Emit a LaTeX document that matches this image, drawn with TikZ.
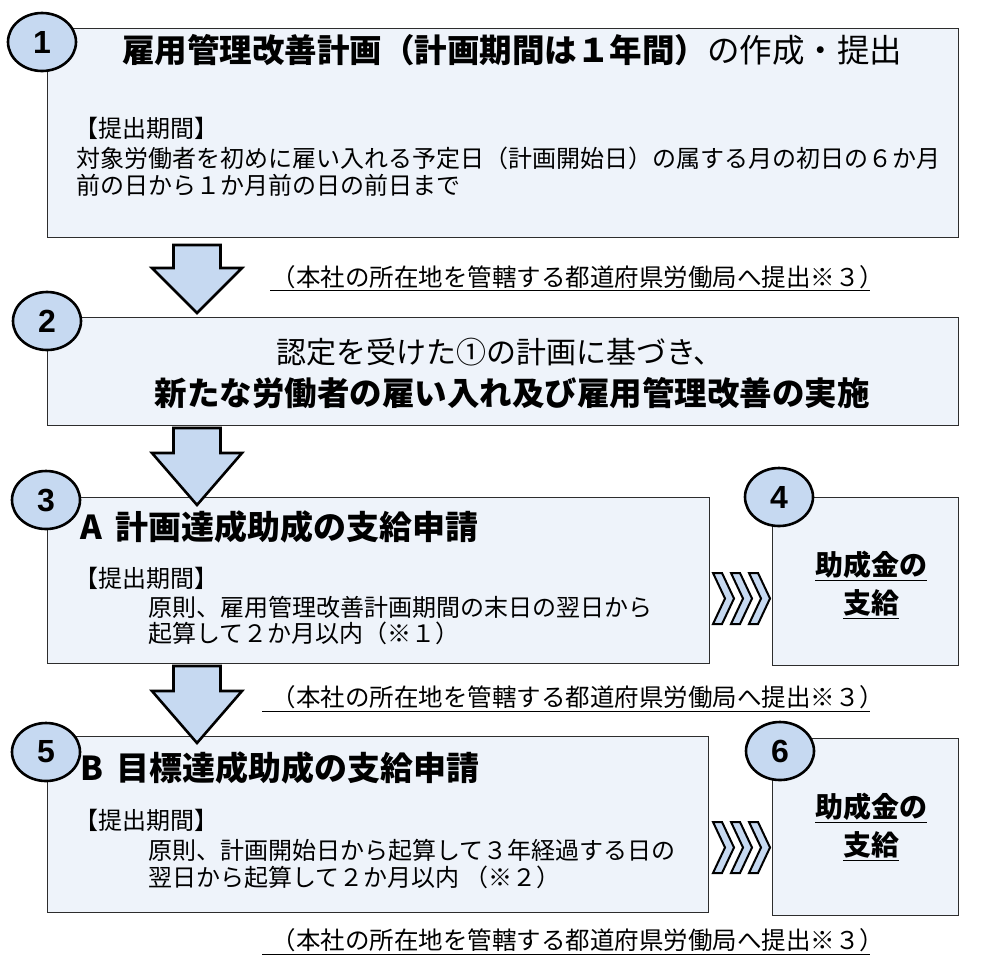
\documentclass[tikz,border=0pt]{standalone}
\usepackage{fontspec}
\setmainfont{Noto Sans CJK JP}
\newfontfamily\numfont{Liberation Sans}
\usetikzlibrary{shapes.geometric}
\definecolor{boxfill}{RGB}{238,243,250}
\definecolor{bluefill}{RGB}{198,217,241}
\definecolor{boxline}{RGB}{45,45,45}
\tikzset{
  box/.style={draw=boxline, line width=1pt, fill=boxfill, anchor=north west, inner sep=0pt},
  num/.style={ellipse, draw=black, line width=2.6pt, fill=bluefill, minimum width=68pt, minimum height=58pt, inner sep=0pt, font=\numfont\bfseries\fontsize{32}{32}\selectfont},
  txt/.style={inner sep=0pt, anchor=west},
  ctxt/.style={inner sep=0pt, anchor=center},
  fbig/.style={font=\fontsize{32.5}{35}\selectfont},
  fhead/.style={font=\fontsize{33}{35}\selectfont},
  fmid/.style={font=\fontsize{30}{33}\selectfont},
  fsmall/.style={font=\fontsize{24}{27}\selectfont},
  fnote/.style={font=\fontsize{24.5}{27}\selectfont},
  fpay/.style={font=\bfseries\fontsize{28}{30}\selectfont},
  barrow/.style={draw=black, line width=2.6pt, fill=bluefill, line join=miter},
  chev/.style={draw=black, line width=2pt, fill=bluefill, line join=miter},
  uline/.style={draw=black, line width=0.9pt},
}
\newcommand\blockarrow[4]{%
  \draw[barrow] (#1-23.5,#2) -- (#1+23.5,#2) -- (#1+23.5,#3) -- (#1+45,#3) -- (#1,#4) -- (#1-45,#3) -- (#1-23.5,#3) -- cycle;}
\newcommand\chevrons[2]{%
  \foreach \i in {0,1,2}{%
    \draw[chev] (#1+18*\i,#2) -- ++(9,0) -- ++(12,25.5) -- ++(-12,25.5) -- ++(-9,0) -- ++(12,-25.5) -- cycle;}}
\begin{document}
\begin{tikzpicture}[x=1pt,y=-1pt]
\useasboundingbox (0,0) rectangle (982,967);
% boxes
\node[box, minimum width=911pt, minimum height=209pt] (b1) at (47,28) {};
\node[box, minimum width=911pt, minimum height=108pt] (b2) at (47,317) {};
\node[box, minimum width=662pt, minimum height=166pt] (b3) at (47,497) {};
\node[box, minimum width=186pt, minimum height=168pt] (b4) at (772,497) {};
\node[box, minimum width=661pt, minimum height=176pt] (b5) at (47,736) {};
\node[box, minimum width=186pt, minimum height=177pt] (b6) at (772,738) {};
% box 1 texts
\node[ctxt, fbig] (t1) at (512,50) {\bfseries 雇用管理改善計画（計画期間は１年間）\mdseries の作成・提出};
\node[txt, fsmall] (t1a) at (74,128) {【提出期間】};
\node[txt, fsmall] (t1b) at (76,158) {対象労働者を初めに雇い入れる予定日（計画開始日）の属する月の初日の６か月};
\node[txt, fsmall] (t1c) at (76,185) {前の日から１か月前の日の前日まで};
% note 1
\node[ctxt, fnote] (n1) at (578,277) {（本社の所在地を管轄する都道府県労働局へ提出※３）};
\draw[uline] (270,290) -- (870,290);
% box 2 texts
\node[ctxt, fmid] (t2a) at (500,352) {認定を受けた①の計画に基づき、};
\node[ctxt, fbig] (t2b) at (512,393) {\bfseries 新たな労働者の雇い入れ及び雇用管理改善の実施};
% box 3 texts
\node[txt, fhead] (t3) at (80,527) {\bfseries A\hspace{0.4em}計画達成助成の支給申請};
\node[txt, fsmall] (t3a) at (74,578) {【提出期間】};
\node[txt, fsmall] (t3b) at (148,607) {原則、雇用管理改善計画期間の末日の翌日から};
\node[txt, fsmall] (t3c) at (148,633) {起算して２か月以内（※１）};
% box 4 texts
\node[ctxt, fpay] (t4a) at (871,566) {\underline{助成金の}};
\node[ctxt, fpay] (t4b) at (871,604) {\underline{支給}};
% note 2
\node[ctxt, fnote] (n2) at (578,697) {（本社の所在地を管轄する都道府県労働局へ提出※３）};
\draw[uline] (262,711) -- (870,711);
% box 5 texts
\node[txt, fhead] (t5) at (80,768) {\bfseries B\hspace{0.4em}目標達成助成の支給申請};
\node[txt, fsmall] (t5a) at (74,820) {【提出期間】};
\node[txt, fsmall] (t5b) at (148,850) {原則、計画開始日から起算して３年経過する日の};
\node[txt, fsmall] (t5c) at (148,877) {翌日から起算して２か月以内 （※２）};
% box 6 texts
\node[ctxt, fpay] (t6a) at (871,808) {\underline{助成金の}};
\node[ctxt, fpay] (t6b) at (871,846) {\underline{支給}};
% note 3
\node[ctxt, fnote] (n3) at (578,940) {（本社の所在地を管轄する都道府県労働局へ提出※３）};
\draw[uline] (262,954) -- (870,954);
% block arrows
\blockarrow{197}{245}{268}{313}
\blockarrow{197}{428}{453}{505}
\blockarrow{197}{666}{691}{743}
% chevrons
\chevrons{713}{573}
\chevrons{713}{822}
% number circles
\node[num] (c1) at (42,42) {1};
\node[num] (c2) at (47,321) {2};
\node[num] (c3) at (46,500) {3};
\node[num] (c4) at (779,497) {4};
\node[num] (c5) at (46,752) {5};
\node[num] (c6) at (780,751) {6};
\end{tikzpicture}
\end{document}
